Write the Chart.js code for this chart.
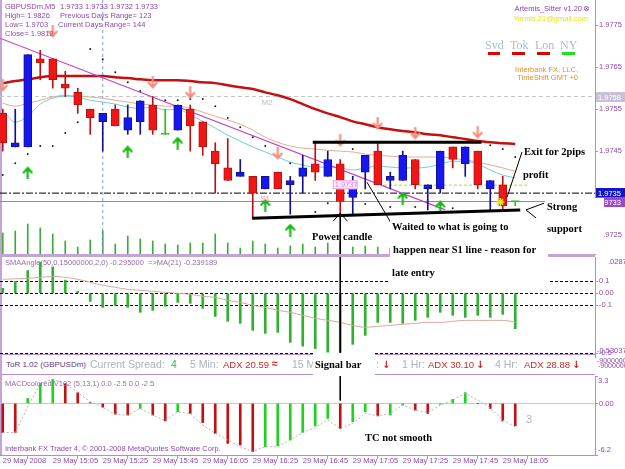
<!DOCTYPE html>
<html>
<head>
<meta charset="utf-8">
<title>GBPUSDm,M5</title>
<script src="https://cdn.jsdelivr.net/npm/chart.js@4.4.1/dist/chart.umd.min.js"></script>
<style>
  html, body { margin: 0; padding: 0; background: #fff; }
  #wrap { position: relative; width: 625px; height: 469px; overflow: hidden; font-family: "Liberation Sans", Arial, sans-serif; }
  #wrap canvas { position: absolute; left: 0; top: 0; z-index: 1; }
  .f { position: absolute; z-index: 0; background: #c4a4d6; }
  .box { position: absolute; z-index: 2; background: #fff; }
  .t { position: absolute; z-index: 3; white-space: nowrap; line-height: 1; font-size: 7.5px; color: #8c4cac; }
  .n { position: absolute; z-index: 5; white-space: nowrap; line-height: 1; font: bold 10.5px "Liberation Serif", "Times New Roman", serif; color: #000; }
  .tor { position: absolute; z-index: 3; white-space: nowrap; line-height: 1; font-size: 10.5px; color: #aab2bc; }
  .adx { color: #c42a2a; font-size: 9.5px; }
  .dn { color: #d42020; font: bold 10px "DejaVu Sans", sans-serif; }
  .ses { position: absolute; z-index: 3; line-height: 1; font: 12px "Liberation Serif", serif; color: #a8bccc; }
</style>
</head>
<body>
<div id="wrap">
  <!-- window frame -->
  <div class="f" style="left:0;top:0;width:2px;height:455px"></div>
  <div class="f" style="left:0;top:254px;width:595px;height:3px"></div>

  <canvas id="cMain" width="625" height="469"></canvas>
  <canvas id="cSma" width="625" height="469"></canvas>
  <canvas id="cMacd" width="625" height="469"></canvas>

  <!-- ToR info row -->
  <div class="box" style="left:2px;top:354px;width:593px;height:19px;border-top:1px solid #b48ccc;border-bottom:1px solid #b48ccc"></div>
  <div class="t" style="left:6px;top:361px;font-size:8px;color:#663a86">ToR 1.02 (GBPUSDm)</div>
  <div class="tor" style="left:90px;top:359px">Current Spread:</div>
  <div class="tor" style="left:171px;top:359px;color:#2ec02e">4</div>
  <div class="tor" style="left:190px;top:359px">5 Min:</div>
  <div class="tor adx" style="left:223px;top:360px">ADX 20.59</div>
  <div class="tor" style="left:272px;top:358px;color:#d42020;font-weight:bold">&#8776;</div>
  <div class="tor" style="left:292px;top:359px">15 Min:</div>
  <div class="tor" style="left:376px;top:359px">:</div>
  <div class="tor dn" style="left:382px;top:359px">&#8595;</div>
  <div class="tor" style="left:402px;top:359px">1 Hr:</div>
  <div class="tor adx" style="left:428px;top:360px">ADX 30.10</div>
  <div class="tor dn" style="left:476px;top:359px">&#8595;</div>
  <div class="tor" style="left:495px;top:359px">4 Hr:</div>
  <div class="tor adx" style="left:524px;top:360px">ADX 28.88</div>
  <div class="tor dn" style="left:572px;top:359px">&#8595;</div>
  <div class="t" style="left:597px;top:357px;font-size:7px">-90000000</div>
  <div class="t" style="left:598px;top:362px;font-size:7px">-90000000</div>

  <!-- white backgrounds behind the hand-written notes -->
  <div class="box" style="left:390px;top:218px;width:158px;height:69px"></div>
  <div class="box" style="left:545px;top:198px;width:59px;height:56px"></div>
  <div class="box" style="left:313px;top:353px;width:62px;height:23px;z-index:4"></div>

  <!-- terminal texts -->
  <div class="t" style="left:5px;top:3px">GBPUSDm,M5</div>
  <div class="t" style="left:60px;top:3px">1.9733 1.9733 1.9732 1.9733</div>
  <div class="t" style="left:5px;top:12px">High= 1.9826</div>
  <div class="t" style="left:60px;top:12px">Previous Days Range= 123</div>
  <div class="t" style="left:5px;top:21px">Low= 1.9703</div>
  <div class="t" style="left:58px;top:21px">Current Days Range= 144</div>
  <div class="t" style="left:5px;top:30px">Close= 1.9812</div>

  <div class="t" style="right:43px;top:5px;color:#9040b0">Artemis_Sitter v1.20</div>
  <div class="t" style="left:583px;top:4px;font:8px 'DejaVu Sans';color:#9040b0">&#8855;</div>
  <div class="t" style="right:37px;top:15px;color:#e6e21a">Yannis.21@gmail.com</div>
  <div class="ses" style="left:485px;top:38px">Svd</div>
  <div class="ses" style="left:510px;top:38px">Tok</div>
  <div class="ses" style="left:535px;top:38px">Lon</div>
  <div class="ses" style="left:560px;top:38px">NY</div>
  <div class="f" style="left:488px;top:52px;width:12px;height:3px;z-index:3;background:#e00000"></div>
  <div class="f" style="left:512px;top:52px;width:13px;height:3px;z-index:3;background:#e00000"></div>
  <div class="f" style="left:537px;top:52px;width:13px;height:3px;z-index:3;background:#e00000"></div>
  <div class="f" style="left:562px;top:52px;width:13px;height:3px;z-index:3;background:#22e022"></div>
  <div class="t" style="right:47px;top:66px;color:#e0902a">Interbank FX, LLC.</div>
  <div class="t" style="right:47px;top:74px;color:#e0902a">TimeShift GMT +0</div>

  <div class="t" style="left:5px;top:259px;color:#9a6aaa">SMAAngle(50,0.15000000,2,0) -0.295000 &nbsp;=&gt;MA(21) -0.239189</div>
  <div class="t" style="left:5px;top:380px;color:#9a6aaa">MACDcolored V102 (5,13,1) 0.0 -2.5 0.0 -2.5</div>
  <div class="t" style="left:5px;top:445px;color:#8c4cac">Interbank FX Trader 4, &copy; 2001-2008 MetaQuotes Software Corp.</div>
  <div class="t" style="left:526px;top:414px;font-size:11px;color:#b4b4b4">3</div>

  <!-- notes -->
  <div class="n" style="left:312px;top:231px">Power candle</div>
  <div class="n" style="left:392px;top:221px">Waited to what is going to</div>
  <div class="n" style="left:393px;top:244px">happen near S1 line - reason for</div>
  <div class="n" style="left:392px;top:267px">late entry</div>
  <div class="n" style="left:524px;top:146px">Exit for 2pips</div>
  <div class="n" style="left:523px;top:169px">profit</div>
  <div class="n" style="left:547px;top:201px">Strong</div>
  <div class="n" style="left:547px;top:223px">support</div>
  <div class="n" style="left:315px;top:359px">Signal bar</div>
  <div class="n" style="left:365px;top:432px">TC not smooth</div>
</div>

<script>
// ---------- data ----------
const timeLabels = ['29 May 2008', '29 May 15:05', '29 May 15:25', '29 May 15:45', '29 May 16:05', '29 May 16:25',
  '29 May 16:45', '29 May 17:05', '29 May 17:25', '29 May 17:45', '29 May 18:05'];

const openP = [1.9754, 1.9746, 1.9746, 1.9767, 1.9767, 1.9761, 1.9759, 1.9755, 1.9752, 1.9755,
  1.9750, 1.9752, 1.9756, 1.9749, 1.9750, 1.9755, 1.9752, 1.9745, 1.9741, 1.9739,
  1.9739, 1.9736, 1.9740, 1.9737, 1.9739, 1.9742, 1.9739, 1.9742, 1.9734, 1.9740,
  1.9745, 1.9738, 1.9738, 1.9743, 1.9736, 1.9736, 1.9746, 1.9742, 1.9745, 1.9736,
  1.9737, 1.9733];
const highP = [1.9755, 1.9755, 1.9768, 1.9769, 1.9767, 1.9764, 1.9760, 1.9755, 1.9754, 1.9756,
  1.9756, 1.9757, 1.9758, 1.9755, 1.9756, 1.9756, 1.9752, 1.9747, 1.9748, 1.9743,
  1.9739, 1.9739, 1.9740, 1.9739, 1.9744, 1.9747, 1.9745, 1.9743, 1.9739, 1.9744,
  1.9747, 1.9740, 1.9745, 1.9743, 1.9737, 1.9745, 1.9746, 1.9746, 1.9745, 1.9738,
  1.9739, 1.9733];
const lowP = [1.9745, 1.9746, 1.9746, 1.9762, 1.9760, 1.9758, 1.9754, 1.9749, 1.9745, 1.9751,
  1.9749, 1.9749, 1.9749, 1.9749, 1.9750, 1.9745, 1.9744, 1.9735, 1.9738, 1.9739,
  1.9729, 1.9736, 1.9736, 1.9730, 1.9735, 1.9738, 1.9739, 1.9730, 1.9730, 1.9736,
  1.9737, 1.9736, 1.9738, 1.9736, 1.9731, 1.9735, 1.9741, 1.9739, 1.9736, 1.9731,
  1.9731, 1.9732];
const closeP = [1.9747, 1.9747, 1.9768, 1.9766, 1.9762, 1.9760, 1.9756, 1.9753, 1.9754, 1.9751,
  1.9753, 1.9757, 1.9750, 1.9749, 1.9756, 1.9751, 1.9746, 1.9742, 1.9738, 1.9740,
  1.9735, 1.9739, 1.9736, 1.9738, 1.9741, 1.9740, 1.9743, 1.9733, 1.9737, 1.9744,
  1.9737, 1.9739, 1.9744, 1.9737, 1.9737, 1.9745, 1.9743, 1.9746, 1.9737, 1.9738,
  1.9732, 1.9733];
const tickVolume = [21, 23, 30, 26, 20, 13, 7, 14, 23, 10, 18, 15, 13, 10, 9, 11, 11, 20, 11, 6,
  13, 10, 6, 8, 10, 7, 11, 12, 7, 8, 7, 6, 11, 7, 7, 10, 6, 8, 9, 7, 10, 3];

const maSlow = [1.97612, 1.97617, 1.97621, 1.97626, 1.97629, 1.97629, 1.97629, 1.97629, 1.97629, 1.97626,
  1.97624, 1.97621, 1.97619, 1.97619, 1.97619, 1.97617, 1.97614, 1.97612, 1.97607, 1.97602,
  1.97598, 1.97590, 1.97583, 1.97574, 1.97562, 1.97550, 1.97540, 1.97531, 1.97521, 1.97514,
  1.97507, 1.97502, 1.97498, 1.97495, 1.97490, 1.97488, 1.97483, 1.97479, 1.97474, 1.97471,
  1.97469, 1.97467];
const maMid = [1.97564, 1.97557, 1.97564, 1.97571, 1.97579, 1.97583, 1.97581, 1.97579, 1.97576, 1.97571,
  1.97567, 1.97562, 1.97560, 1.97557, 1.97557, 1.97552, 1.97543, 1.97533, 1.97524, 1.97514,
  1.97500, 1.97483, 1.97471, 1.97462, 1.97457, 1.97455, 1.97452, 1.97450, 1.97448, 1.97443,
  1.97440, 1.97438, 1.97436, 1.97436, 1.97436, 1.97436, 1.97433, 1.97429, 1.97424, 1.97417,
  1.97410, 1.97402];
const maFast = [1.97548, 1.97519, 1.97533, 1.97562, 1.97576, 1.97581, 1.97579, 1.97571, 1.97567, 1.97562,
  1.97555, 1.97552, 1.97555, 1.97548, 1.97550, 1.97536, 1.97521, 1.97505, 1.97488, 1.97474,
  1.97460, 1.97448, 1.97436, 1.97424, 1.97417, 1.97412, 1.97412, 1.97410, 1.97405, 1.97410,
  1.97414, 1.97412, 1.97410, 1.97410, 1.97412, 1.97419, 1.97426, 1.97426, 1.97419, 1.97405,
  1.97393, 1.97386];
const sarDots = [1.97393, 1.97421, 1.97443, 1.97462, 1.97462, 1.97493, 1.97519, 1.97693, 1.97669, 1.97638,
  1.97614, 1.97593, null, 1.97571, 1.97571, 1.97574, 1.97574, 1.97557, 1.97529, 1.97507,
  1.97483, 1.97462, null, 1.97421, null, 1.97305, 1.97326, null, 1.97455, 1.97324,
  null, 1.97317, null, 1.97317, null, null, 1.97314, null, null, 1.97464,
  1.97455, 1.97436];
const sellBars = [0, 4, 12, 15, 22, 27, 30, 33, 38];
const sellPrices = [1.97607, 1.97736, 1.97614, 1.97590, 1.97445, 1.97476, 1.97517, 1.97493, 1.97495];
const buyBars = [2, 10, 14, 21, 23, 32, 35];
const buyPrices = [1.97398, 1.97448, 1.97469, 1.97321, 1.97262, 1.97338, 1.97317];
const trendLine = [[-0.22, 1.97719], [35.4, 1.97310]];

const priceTicks = [1.9725, 1.9735, 1.9745, 1.9755, 1.9765, 1.9775];
const levelM2 = 1.9758, levelLine = 1.9735, levelS1 = 1.9733, levelTag = 1.9737;

const smaAngle = [0.042, 0.1, 0.19, 0.26, 0.22, 0.11, 0.017, -0.067, -0.117, -0.1,
  -0.117, -0.158, -0.142, -0.108, -0.075, -0.083, -0.125, -0.192, -0.233, -0.25,
  -0.308, -0.333, -0.325, -0.408, -0.44, -0.46, -0.49, -0.49, -0.425, -0.35,
  -0.242, -0.242, -0.25, -0.225, -0.2, -0.158, -0.183, -0.2, -0.183, -0.2,
  -0.175, -0.295];
const smaAngleMa = [0.117, 0.121, 0.125, 0.133, 0.142, 0.133, 0.117, 0.092, 0.067, 0.05,
  0.033, 0.025, 0.017, 0.008, 0, -0.008, -0.025, -0.033, -0.058, -0.075,
  -0.1, -0.117, -0.142, -0.158, -0.183, -0.208, -0.225, -0.242, -0.267, -0.283,
  -0.275, -0.267, -0.258, -0.25, -0.242, -0.242, -0.233, -0.225, -0.225, -0.225,
  -0.225, -0.239];
const smaLevels = [0.1, 0, -0.1, -0.5];

const macdHist = [-3.5, -3.5, 0.6, 2.4, 2.9, 2.4, 1.3, 0.1, -0.45, -1.3,
  -1.4, -0.6, -1.4, -2.1, -1.0, -1.2, -2.3, -3.6, -4.8, -5.0,
  -5.8, -5.2, -5.1, -4.4, -3.5, -2.7, -1.8, -3.0, -2.2, -1.0,
  -1.5, -1.4, -0.2, -0.8, -1.2, -0.1, 0.5, 1.3, 0.0, -0.6,
  -2.1, -2.7];
const macdSignal = [-3.5, -3.5, -0.4, 2.4, 2.9, 2.4, 1.3, 0.2, -0.45, -1.3,
  -1.4, -0.6, -1.4, -2.1, -1.0, -1.2, -2.6, -3.6, -4.4, -5.2,
  -5.8, -5.2, -5.2, -4.4, -3.5, -2.9, -2.0, -3.0, -2.4, -1.2,
  -1.5, -1.2, -0.2, -0.8, -1.1, -0.2, 0.4, 1.2, 0.4, -0.5,
  -2.0, -2.8];

// ---------- shared setup ----------
Chart.defaults.font.family = '"Liberation Sans", Arial, sans-serif';
Chart.defaults.font.size = 7.5;
Chart.defaults.animation = false;

const PURPLE = '#b48ccc';
const LABEL = '#8c4cac';
const UP = '#1616f0', UP_WICK = '#12128e', DOWN = '#f01616', DOWN_WICK = '#b41414', DOJI = '#22c022';
const X_MIN = -0.22, X_MAX = 47.38;
const Y_MIN = 1.97205, Y_MAX = 1.97810;
const SMA_MIN = -0.53037, SMA_MAX = 0.302875;
const MACD_MIN = -6.2, MACD_MAX = 3.3;
const SIGNAL_BAR = 27;

const idx = openP.map((_, i) => i);
const pts = arr => arr.map((v, i) => ({x: i, y: v})).filter(p => p.y !== null);
const hline = (p, from = X_MIN, to = X_MAX) => [{x: from, y: p}, {x: to, y: p}];
const bodyColor = idx.map(i => closeP[i] > openP[i] ? UP : closeP[i] < openP[i] ? DOWN : DOJI);
const wickColor = idx.map(i => closeP[i] > openP[i] ? UP_WICK : closeP[i] < openP[i] ? DOWN_WICK : DOJI);

function rightAxisFit(scale) {
  scale.width = 30;
  scale.paddingTop = 0;
  scale.paddingBottom = 0;
}

function arrowIcon(color, up) {
  const c = document.createElement('canvas');
  c.width = 11; c.height = 13;
  const g = c.getContext('2d');
  g.strokeStyle = color; g.lineWidth = 2.2; g.lineCap = 'round'; g.lineJoin = 'round';
  g.beginPath();
  if (up) {
    g.moveTo(5.5, 12); g.lineTo(5.5, 2);
    g.moveTo(1.5, 6); g.lineTo(5.5, 1.5); g.lineTo(9.5, 6);
  } else {
    g.moveTo(5.5, 1); g.lineTo(5.5, 11);
    g.moveTo(1.5, 7); g.lineTo(5.5, 11.5); g.lineTo(9.5, 7);
  }
  g.stroke();
  return c;
}

function baseOptions(padding) {
  return {
    responsive: false,
    devicePixelRatio: 1,
    events: [],
    layout: {padding, autoPadding: false},
    plugins: {legend: {display: false}, tooltip: {enabled: false}}
  };
}

function lineSet(data, color, width, extra) {
  return Object.assign({type: 'line', data, borderColor: color, borderWidth: width,
    pointRadius: 0, fill: false, tension: 0}, extra || {});
}

// ---------- price window ----------
const noteThick = [
  {x: 24.8, y: 1.97471}, {x: 38.3, y: 1.97471}, {x: 38.3, y: null},
  {x: 19.95, y: 1.97290}, {x: 41.4, y: 1.97310}
];
const noteThin = [
  {x: 41.54, y: 1.97448}, {x: 40.34, y: 1.97340}, {x: 40.34, y: null},
  {x: 43.3, y: 1.97326}, {x: 41.86, y: 1.97310}, {x: 42.7, y: 1.97290}, {x: 42.7, y: null},
  {x: 31.22, y: 1.97271}, {x: 29.14, y: 1.97376}, {x: 29.14, y: null},
  {x: 26.42, y: 1.97283}, {x: SIGNAL_BAR, y: 1.97302}, {x: 27.58, y: 1.97283}, {x: 27.58, y: null},
  {x: SIGNAL_BAR, y: 1.97302}, {x: SIGNAL_BAR, y: Y_MIN}
];

const mainLabels = {
  id: 'mainLabels',
  afterDraw(chart) {
    const {ctx, scales: {x, y}} = chart;
    ctx.save();
    ctx.font = '7.5px "Liberation Sans"';
    ctx.textBaseline = 'middle';
    [[levelM2, '#c9c1d6'], [levelLine, '#1414c8'], [levelS1, '#9a4ac8']].forEach(([p, bg]) => {
      const py = Math.round(y.getPixelForValue(p));
      ctx.fillStyle = bg;
      ctx.fillRect(596, py - 5, 29, 10);
      ctx.fillStyle = '#ffffff';
      ctx.fillText(p.toFixed(4), 598, py + 0.5);
    });
    ctx.font = '8px "Liberation Sans"';
    ctx.fillStyle = '#bdbdbd';
    ctx.fillText('M2', x.getPixelForValue(20.7), y.getPixelForValue(levelM2) + 6);
    ctx.fillStyle = '#e39a9a';
    ctx.fillText('S1', x.getPixelForValue(20.6), y.getPixelForValue(levelS1) - 3);
    // price tag near the power candle
    const tx = x.getPixelForValue(26.4), ty = y.getPixelForValue(levelTag);
    ctx.fillStyle = '#fbeefb';
    ctx.strokeStyle = '#e2a6e6';
    ctx.fillRect(tx, ty - 4.5, 25, 9);
    ctx.strokeRect(tx + 0.5, ty - 4, 24, 8);
    ctx.fillStyle = '#e07ce6';
    ctx.font = '7.5px "Liberation Sans"';
    ctx.fillText(levelTag.toFixed(4), tx + 2, ty + 0.5);
    ctx.restore();
  }
};

new Chart(document.getElementById('cMain'), {
  type: 'bar',
  data: {
    datasets: [
      lineSet(noteThick, '#000000', 3, {order: 1}),
      lineSet(noteThin, '#000000', 1, {order: 1}),
      {type: 'line', showLine: false, order: 2, data: sellBars.map((b, k) => ({x: b, y: sellPrices[k]})),
        pointStyle: arrowIcon('#f2907e', false), pointRadius: 5},
      {type: 'line', showLine: false, order: 2, data: buyBars.map((b, k) => ({x: b, y: buyPrices[k]})),
        pointStyle: arrowIcon('#18b818', true), pointRadius: 5},
      {type: 'line', showLine: false, order: 2, data: [{x: 39.8, y: 1.97329}],
        pointStyle: 'star', pointRadius: 4, borderColor: '#e6e61a', borderWidth: 1.5},
      {type: 'line', showLine: false, order: 3, data: pts(sarDots),
        pointRadius: 1, backgroundColor: '#1e1e1e', borderColor: '#1e1e1e', borderWidth: 0},
      {order: 4, data: idx.map(i => ({x: i, y: [openP[i], closeP[i]]})), grouped: false,
        backgroundColor: bodyColor, borderColor: wickColor, borderWidth: 1, borderSkipped: false,
        barThickness: 8, minBarLength: 1},
      {order: 5, data: idx.map(i => ({x: i, y: [lowP[i], highP[i]]})), grouped: false,
        backgroundColor: wickColor, barThickness: 1, borderWidth: 0},
      lineSet(trendLine.map(([bx, p]) => ({x: bx, y: p})), '#c444c8', 1.2, {order: 6}),
      lineSet(pts(maFast), '#6ccfd8', 1, {order: 7, cubicInterpolationMode: 'monotone'}),
      lineSet(pts(maMid), '#e6aa8c', 1, {order: 8, cubicInterpolationMode: 'monotone'}),
      lineSet(pts(maSlow), '#c41010', 2.5, {order: 9, cubicInterpolationMode: 'monotone'}),
      lineSet([{x: 8, y: Y_MAX}, {x: 8, y: Y_MIN}], '#7a9ccc', 1, {order: 10, borderDash: [3, 3]}),
      lineSet(hline(levelM2), '#c4c4c4', 1, {order: 11, borderDash: [4, 3]}),
      lineSet(hline(levelLine), '#000000', 1, {order: 11, borderDash: [7, 2, 2, 2]}),
      lineSet(hline(levelS1), '#8c8c8c', 1, {order: 11}),
      lineSet(hline(1.97369, 30.5, 42), '#b4d244', 1, {order: 11, borderDash: [3, 2]}),
      {order: 15, yAxisID: 'yv', data: idx.map(i => ({x: i, y: tickVolume[i]})), grouped: false,
        backgroundColor: '#3cab3c', barThickness: 1, borderWidth: 0}
    ]
  },
  options: Object.assign(baseOptions({top: 0, left: 0, right: 0, bottom: 215}), {
    scales: {
      x: {type: 'linear', min: X_MIN, max: X_MAX, offset: false, display: false},
      y: {
        position: 'right', min: Y_MIN, max: Y_MAX,
        afterFit: rightAxisFit,
        afterBuildTicks: s => { s.ticks = priceTicks.map(v => ({value: v})); },
        ticks: {color: LABEL, padding: 1, autoSkip: false, callback: v => v.toFixed(4)},
        grid: {drawOnChartArea: false, drawTicks: true, tickLength: 3, tickColor: PURPLE},
        border: {color: PURPLE}
      },
      yv: {display: false, min: 0, max: 254}
    }
  }),
  plugins: [mainLabels]
});

// ---------- SMA angle window ----------
const smaLabels = {
  id: 'smaLabels',
  afterDraw(chart) {
    const {ctx, scales: {y}} = chart;
    ctx.save();
    ctx.font = '7.5px "Liberation Sans"';
    ctx.textBaseline = 'middle';
    ctx.fillStyle = LABEL;
    ctx.fillText('.02875', 608, y.getPixelForValue(SMA_MAX) + 5);
    ctx.fillText(SMA_MIN.toFixed(5), 597, y.getPixelForValue(SMA_MIN) - 6);
    ctx.restore();
  }
};

new Chart(document.getElementById('cSma'), {
  type: 'bar',
  data: {
    datasets: [
      lineSet([{x: SIGNAL_BAR, y: SMA_MAX}, {x: SIGNAL_BAR, y: SMA_MIN}], '#000000', 1, {order: 1}),
      lineSet(pts(smaAngleMa), '#d8a8a0', 1, {order: 2, cubicInterpolationMode: 'monotone'}),
      {order: 3, data: idx.map(i => ({x: i, y: smaAngle[i]})), grouped: false,
        backgroundColor: '#30b030', barThickness: 2, borderWidth: 0}
    ]
  },
  options: Object.assign(baseOptions({top: 257, left: 0, right: 0, bottom: 112}), {
    scales: {
      x: {type: 'linear', min: X_MIN, max: X_MAX, offset: false, display: false},
      y: {
        position: 'right', min: SMA_MIN, max: SMA_MAX,
        afterFit: rightAxisFit,
        afterBuildTicks: s => { s.ticks = smaLevels.map(v => ({value: v})); },
        ticks: {color: LABEL, padding: 1, autoSkip: false, callback: v => (v === 0 ? '0.00' : String(v))},
        grid: {color: '#000000', drawTicks: true, tickLength: 3, tickColor: PURPLE},
        border: {color: PURPLE, dash: [3, 2]}
      }
    }
  }),
  plugins: [smaLabels]
});

// ---------- MACD window ----------
const macdColor = macdHist.map((v, i) => (i > 0 && v > macdHist[i - 1]) ? '#22d022' : '#c01212');

const macdLabels = {
  id: 'macdLabels',
  afterDraw(chart) {
    const {ctx, scales: {y}} = chart;
    ctx.save();
    ctx.font = '7.5px "Liberation Sans"';
    ctx.textBaseline = 'middle';
    ctx.fillStyle = LABEL;
    ctx.fillText(String(MACD_MAX), 598, y.getPixelForValue(MACD_MAX) + 5);
    ctx.fillText(String(MACD_MIN), 598, y.getPixelForValue(MACD_MIN) - 5);
    ctx.restore();
  }
};

new Chart(document.getElementById('cMacd'), {
  type: 'bar',
  data: {
    datasets: [
      lineSet([{x: SIGNAL_BAR, y: MACD_MAX}, {x: SIGNAL_BAR, y: 0.35}], '#000000', 1, {order: 1}),
      lineSet(pts(macdSignal), '#b4b4b4', 1, {order: 2, borderDash: [2, 2]}),
      {order: 3, data: idx.map(i => ({x: i, y: macdHist[i]})), grouped: false,
        backgroundColor: macdColor, barThickness: 2, borderWidth: 0}
    ]
  },
  options: Object.assign(baseOptions({top: 376, left: 0, right: 0, bottom: 0}), {
    scales: {
      x: {
        type: 'linear', min: X_MIN, max: X_MAX, offset: false,
        afterFit: s => { s.height = 14; s.paddingLeft = 0; s.paddingRight = 0; },
        afterBuildTicks: s => { s.ticks = timeLabels.map((_, k) => ({value: k * 4})); },
        ticks: {color: LABEL, align: 'start', maxRotation: 0, autoSkip: false, padding: -3,
          callback: (v, k) => timeLabels[k]},
        grid: {drawOnChartArea: false, drawTicks: true, tickLength: 4, tickColor: PURPLE},
        border: {color: PURPLE}
      },
      y: {
        position: 'right', min: MACD_MIN, max: MACD_MAX,
        afterFit: rightAxisFit,
        afterBuildTicks: s => { s.ticks = [MACD_MAX, 0, MACD_MIN].map(v => ({value: v})); },
        ticks: {color: LABEL, padding: 1, autoSkip: false, callback: v => (v === 0 ? '0.00' : '')},
        grid: {
          color: c => (c.tick && c.tick.value === 0 ? '#c8c8c8' : 'rgba(0,0,0,0)'),
          drawTicks: true, tickLength: 3, tickColor: PURPLE
        },
        border: {color: PURPLE}
      }
    }
  }),
  plugins: [macdLabels]
});
</script>
</body>
</html>
